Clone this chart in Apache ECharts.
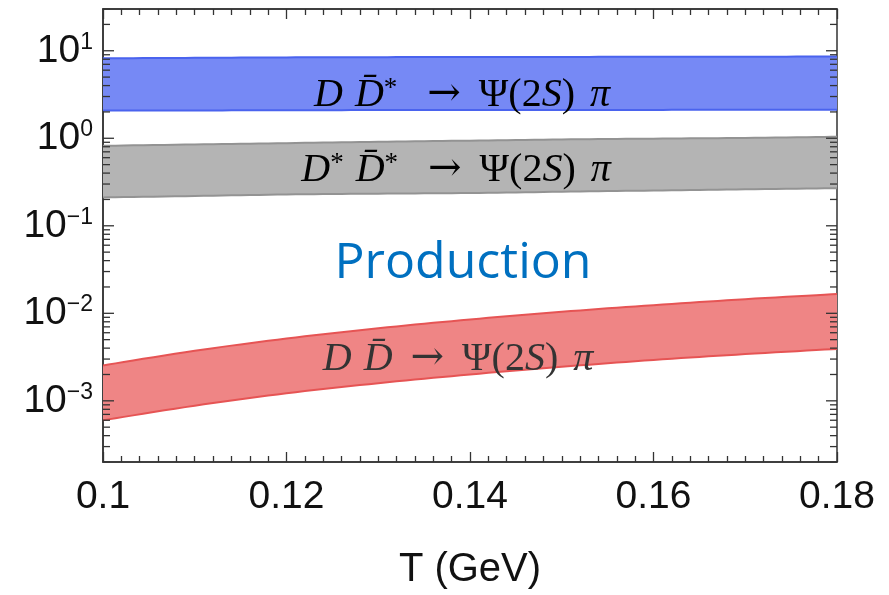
<!DOCTYPE html>
<html>
<head>
<meta charset="utf-8">
<script src="https://cdn.jsdelivr.net/npm/echarts@6/dist/echarts.min.js"></script>
<style>
  html, body { margin: 0; padding: 0; background: #fff; }
  #chart { width: 889px; height: 595px; }
</style>
</head>
<body>
<div id="chart"></div>
<script>
// Temperature grid (GeV)
const temperature = [0.10, 0.11, 0.12, 0.13, 0.14, 0.15, 0.16, 0.17, 0.18];

// D Dbar* -> Psi(2S) pi band (lower / upper edge)
const dDstarLow  = [2.07, 2.08, 2.09, 2.10, 2.10, 2.11, 2.11, 2.12, 2.12];
const dDstarHigh = [8.20, 8.30, 8.40, 8.45, 8.50, 8.50, 8.55, 8.55, 8.60];

// D* Dbar* -> Psi(2S) pi band
const dstarDstarLow  = [0.211, 0.219, 0.228, 0.233, 0.237, 0.245, 0.253, 0.261, 0.269];
const dstarDstarHigh = [0.82, 0.85, 0.88, 0.91, 0.94, 0.97, 0.99, 1.01, 1.04];

// D Dbar -> Psi(2S) pi band
const dDLow  = [6.0e-4, 8.8e-4, 1.22e-3, 1.59e-3, 2.0e-3, 2.45e-3, 2.93e-3, 3.42e-3, 3.92e-3];
const dDHigh = [2.54e-3, 3.73e-3, 5.15e-3, 6.75e-3, 8.5e-3, 1.04e-2, 1.24e-2, 1.45e-2, 1.66e-2];

// Axis settings
const xMin = 0.1, xMax = 0.18, xStep = 0.02;
const yMin = 2e-4, yMax = 30;

const chart = echarts.init(document.getElementById('chart'));

const sansFont = '"Liberation Sans", Arial, sans-serif';
const serifFont = '"Liberation Serif", "Times New Roman", serif';
const arrowFont = '"DejaVu Serif", serif';

// Catmull-Rom path through screen points, so band edges are drawn as smooth curves
function smoothPath(pts, steps) {
  const out = [];
  for (let i = 0; i < pts.length - 1; i++) {
    const p0 = pts[Math.max(i - 1, 0)], p1 = pts[i], p2 = pts[i + 1], p3 = pts[Math.min(i + 2, pts.length - 1)];
    for (let s = 0; s < steps; s++) {
      const t = s / steps, t2 = t * t, t3 = t2 * t;
      const f = k => 0.5 * ((2 * p1[k]) + (-p0[k] + p2[k]) * t +
        (2 * p0[k] - 5 * p1[k] + 4 * p2[k] - p3[k]) * t2 +
        (-p0[k] + 3 * p1[k] - 3 * p2[k] + p3[k]) * t3);
      out.push([f(0), f(1)]);
    }
  }
  out.push(pts[pts.length - 1]);
  return out;
}

function bandSeries(name, lo, hi, fill, edge) {
  const rows = temperature.map((t, i) => [t, lo[i], hi[i]]);
  return {
    type: 'custom',
    name: name,
    coordinateSystem: 'cartesian2d',
    clip: true,
    silent: true,
    encode: { x: 0, y: [1, 2] },
    data: rows,
    renderItem: function (params, api) {
      if (params.dataIndex !== 0) return null;
      const upper = smoothPath(rows.map(r => api.coord([r[0], r[2]])), 10);
      const lower = smoothPath(rows.map(r => api.coord([r[0], r[1]])), 10);
      return {
        type: 'group',
        children: [
          { type: 'polygon', shape: { points: upper.concat(lower.slice().reverse()) },
            style: { fill: fill, stroke: null } },
          { type: 'polyline', shape: { points: upper },
            style: { fill: null, stroke: edge, lineWidth: 2 } },
          { type: 'polyline', shape: { points: lower },
            style: { fill: null, stroke: edge, lineWidth: 2 } }
        ]
      };
    }
  };
}

// Log tick positions on the y frame: 1..9 x 10^n inside the range
const yTickValues = [];
for (let n = -4; n <= 1; n++) {
  for (let k = 1; k <= 9; k++) {
    const v = k * Math.pow(10, n);
    if (v >= yMin * 0.9999 && v <= yMax * 1.0001) yTickValues.push([k === 1 ? 1 : 0, v]);
  }
}

const yTickSeries = {
  type: 'custom',
  coordinateSystem: 'cartesian2d',
  silent: true,
  clip: false,
  encode: { y: 1 },
  data: yTickValues,
  renderItem: function (params, api) {
    const major = api.value(0) === 1;
    const v = api.value(1);
    const len = major ? 11 : 7;
    const pl = api.coord([xMin, v]);
    const pr = api.coord([xMax, v]);
    const st = { stroke: '#333', lineWidth: 1.3 };
    return {
      type: 'group',
      children: [
        { type: 'line', shape: { x1: pl[0], y1: pl[1], x2: pl[0] + len, y2: pl[1] }, style: st },
        { type: 'line', shape: { x1: pr[0], y1: pr[1], x2: pr[0] - len, y2: pr[1] }, style: st }
      ]
    };
  }
};

function supText(e) {
  return e < 0 ? '\u2212' + (-e) : String(e);
}

const xAxisCommon = {
  type: 'value',
  min: xMin,
  max: xMax,
  interval: xStep,
  splitLine: { show: false },
  axisLine: { show: true, onZero: false, lineStyle: { color: '#333', width: 1.5 } },
  axisTick: { show: true, inside: true, length: 10, lineStyle: { color: '#333', width: 1.3 } },
  minorTick: { show: true, splitNumber: 10, length: 6, lineStyle: { color: '#333', width: 1.3 } }
};

// Rich-text styles for the reaction formulas
function mathRich(color, size) {
  const base = { fontFamily: serifFont, fontSize: size, color: color };
  return {
    i: Object.assign({}, base, { fontStyle: 'italic' }),
    r: base,
    a: { fontFamily: arrowFont, fontSize: size, color: color },
    sp: { fontFamily: serifFont, fontSize: Math.round(size * 0.68), color: color, verticalAlign: 'top' },
    g1: Object.assign({}, base, { width: 12 }),
    g2: Object.assign({}, base, { width: 30 }),
    g3: Object.assign({}, base, { width: 18 }),
    g4: Object.assign({}, base, { width: 15 })
  };
}

function labelGraphic(text, cx, cy, color, size) {
  return {
    type: 'text',
    x: cx, y: cy,
    silent: true,
    z: 10,
    style: {
      text: text,
      align: 'center',
      verticalAlign: 'middle',
      rich: mathRich(color, size),
      fill: color,
      font: size + 'px ' + serifFont
    }
  };
}

const dbar = '{i|D\u0304}';
const arrowPart = '{a|\u2192}{r|\u2009 \u03A8(2}{i|S}{r|)}{g4| }{i|\u03C0}';

const option = {
  animation: false,
  backgroundColor: '#fff',
  grid: {
    left: 103, right: 52, top: 9, bottom: 132,
    show: true, borderColor: '#333', borderWidth: 1.5, backgroundColor: 'transparent'
  },
  xAxis: [
    Object.assign({}, xAxisCommon, {
      position: 'bottom',
      name: 'T (GeV)',
      nameLocation: 'middle',
      nameGap: 88,
      nameTextStyle: { fontFamily: sansFont, fontSize: 40, color: '#111' },
      axisLabel: {
        fontFamily: sansFont, fontSize: 39, color: '#111', margin: 16,
        formatter: v => String(parseFloat(v.toFixed(2)))
      }
    }),
    Object.assign({}, xAxisCommon, {
      position: 'top',
      axisLabel: { show: false }
    })
  ],
  yAxis: {
    type: 'log',
    logBase: 10,
    min: yMin,
    max: yMax,
    splitLine: { show: false },
    axisLine: { show: true, lineStyle: { color: '#333', width: 1.5 } },
    axisTick: { show: false },
    minorTick: { show: false },
    axisLabel: {
      margin: 10,
      formatter: function (v) {
        const e = Math.round(Math.log10(v));
        if (Math.abs(Math.log10(v) - e) > 1e-6) return '';
        return '{b|10}{s|' + supText(e) + '}';
      },
      rich: {
        b: { fontFamily: sansFont, fontSize: 39, color: '#111', lineHeight: 40 },
        s: { fontFamily: sansFont, fontSize: 23, color: '#111', verticalAlign: 'top', lineHeight: 22 }
      }
    }
  },
  series: [
    bandSeries('DDbar*', dDstarLow, dDstarHigh, '#7689f5', '#4a63ee'),
    bandSeries('D*Dbar*', dstarDstarLow, dstarDstarHigh, '#b4b4b4', '#939393'),
    bandSeries('DDbar', dDLow, dDHigh, '#ef8585', '#e65454'),
    yTickSeries
  ],
  graphic: [
    labelGraphic('{i|D}{g1| }' + dbar + '{sp|*}{g2| }' + arrowPart, 462, 95, '#000', 40),
    labelGraphic('{i|D}{sp|*}{g1| }' + dbar + '{sp|*}{g2| }' + arrowPart, 456, 170, '#000', 40),
    labelGraphic('{i|D}{g1| }' + dbar + '{g3| }' + arrowPart, 458, 359, '#333', 40),
    {
      type: 'text', x: 463, y: 264, silent: true, z: 10,
      style: {
        text: 'Production', align: 'center', verticalAlign: 'middle',
        font: '50px "Comic Sans MS", "Open Sans", sans-serif', fill: '#0070c0'
      }
    }
  ]
};

chart.setOption(option);
</script>
</body>
</html>
